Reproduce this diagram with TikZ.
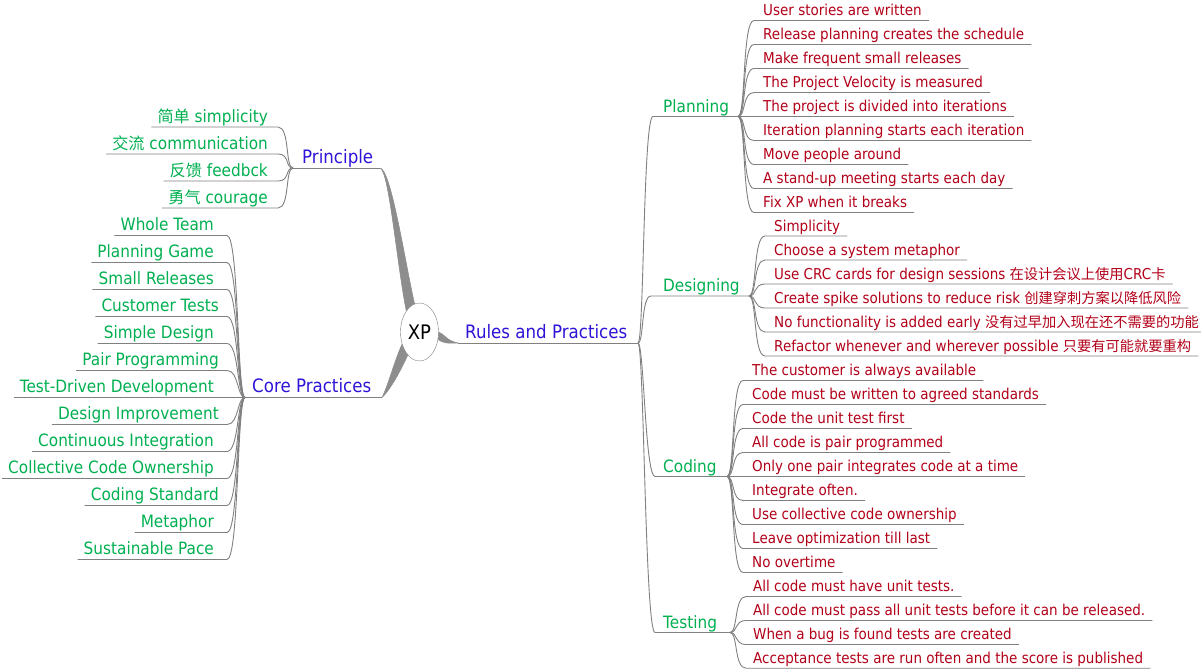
\documentclass[tikz,border=0pt]{standalone}
\usepackage{fontspec}
\setmainfont{DejaVu Sans}[FakeStretch=0.9]
\newfontfamily\cjk{Noto Sans CJK SC}[Scale=0.95]
\usetikzlibrary{calc,shapes.geometric,backgrounds}
\definecolor{topblue}{RGB}{45,20,215}
\definecolor{brgreen}{RGB}{0,176,80}
\definecolor{lfred}{RGB}{178,0,24}
\definecolor{lnk}{RGB}{128,128,128}
% right leaf: name, junction, y, text x, text
\newcommand\rleaf[5]{%
  \node[lftext,anchor=base west] (#1) at (#4,#3-5) {#5};
  \draw[link] (#2) .. controls +(8,0) and +(-12,0) .. ($(#2|-#1.base)+(16,5)$) -- ($(#1.base east)+(7,5)$);
}
% left leaf: name, junction, y, text right x, text, curve offset
\newcommand\lleaf[6]{%
  \node[brtext,anchor=base east] (#1) at (#4,#3-5) {#5};
  \draw[link] (#2) .. controls +(-8,0) and +(12,0) .. ($(#2|-#1.base)+(-#6,5)$) -- ($(#1.base west)+(-6,5)$);
}
\begin{document}
\begin{tikzpicture}[x=1pt,y=-1pt,
  toptext/.style={text=topblue,font=\fontsize{18.5}{20}\selectfont,inner sep=0pt},
  brtext/.style={text=brgreen,font=\fontsize{17}{19}\selectfont,inner sep=0pt},
  lftext/.style={text=lfred,font=\fontsize{15}{17}\selectfont,inner sep=0pt},
  link/.style={draw=lnk,line width=0.9pt},
  mainlink/.style={fill=lnk!90,draw=lnk!90,line width=0.6pt}]
\useasboundingbox (0,0) rectangle (1201,669);

% central node
\node[draw=lnk,fill=white,ellipse,minimum width=38,minimum height=58,inner sep=0pt,
      font=\fontsize{20}{22}\selectfont] (xp) at (419.5,332) {XP};

% main topics
\node[toptext,anchor=base west] (pr) at (302,163) {Principle};
\node[toptext,anchor=base west] (cp) at (252,392.5) {Core Practices};
\node[toptext,anchor=base west] (rp) at (465,338) {Rules and Practices};
\coordinate (prJ) at (293,168);   \coordinate (prE) at (380,168);
\coordinate (cpJ) at (245,397.5); \coordinate (cpE) at (382,397.5);
\coordinate (rS) at (458,343);    \coordinate (rJ) at (638,343);
\draw[link] (prJ) -- (prE);
\draw[link] (cpJ) -- (cpE);
\draw[link] (rS) -- (rJ);

\begin{scope}[on background layer]
  \fill[mainlink] (prE) .. controls (389,170) and (397,265) .. (xp.122) -- (xp.100)
        .. controls (405,262) and (391,169) .. (prE);
  \fill[mainlink] (cpE) .. controls (388,386) and (394,362) .. (xp.215) -- (xp.243)
        .. controls (400,372) and (390,390) .. (cpE);
  \fill[mainlink] (xp.0) .. controls (444,334) and (447,341) .. (rS)
        .. controls (447,343.5) and (443,343) .. (xp.-22) -- cycle;
\end{scope}

% Principle leaves
\lleaf{p1}{prJ}{127}{268}{{\cjk 简单} simplicity}{15}
\lleaf{p2}{prJ}{154}{268}{{\cjk 交流} communication}{15}
\lleaf{p3}{prJ}{181}{268}{{\cjk 反馈} feedbck}{15}
\lleaf{p4}{prJ}{208}{268}{{\cjk 勇气} courage}{15}

% Core Practices leaves
\lleaf{c1}{cpJ}{235.5}{214}{Whole Team}{18}
\lleaf{c2}{cpJ}{262.5}{214}{Planning Game}{18}
\lleaf{c3}{cpJ}{289.5}{214}{Small Releases}{18}
\lleaf{c4}{cpJ}{316.5}{219}{Customer Tests}{18}
\lleaf{c5}{cpJ}{343.5}{214}{Simple Design}{18}
\lleaf{c6}{cpJ}{370.5}{219}{Pair Programming}{18}
\lleaf{c7}{cpJ}{397.5}{214}{Test-Driven Development}{18}
\lleaf{c8}{cpJ}{424.5}{219}{Design Improvement}{18}
\lleaf{c9}{cpJ}{451.5}{214}{Continuous Integration}{18}
\lleaf{c10}{cpJ}{478.5}{214}{Collective Code Ownership}{18}
\lleaf{c11}{cpJ}{505.5}{219}{Coding Standard}{18}
\lleaf{c12}{cpJ}{532.5}{214}{Metaphor}{18}
\lleaf{c13}{cpJ}{559.5}{214}{Sustainable Pace}{18}

% Rules and Practices branches
\node[brtext,anchor=base west] (pl) at (663,112) {Planning};
\node[brtext,anchor=base west] (de) at (663,291.5) {Designing};
\node[brtext,anchor=base west] (co) at (663,472) {Coding};
\node[brtext,anchor=base west] (te) at (663,628) {Testing};
\coordinate (plS) at (653,116.5); \coordinate (plJ) at (738,116.5);
\coordinate (deS) at (651,296);   \coordinate (deJ) at (749,296);
\coordinate (coS) at (655,476.5); \coordinate (coJ) at (727,476.5);
\coordinate (teS) at (655,632.5); \coordinate (teJ) at (730,632.5);
\foreach \b in {pl,de,co,te}{
  \draw[link] (rJ) .. controls +(6,0) and +(-10,0) .. (\b S) -- (\b J);
}

% Planning leaves
\rleaf{l1}{plJ}{20.5}{763}{User stories are written}
\rleaf{l2}{plJ}{44.5}{763}{Release planning creates the schedule}
\rleaf{l3}{plJ}{68.5}{763}{Make frequent small releases}
\rleaf{l4}{plJ}{92.5}{763}{The Project Velocity is measured}
\rleaf{l5}{plJ}{116.5}{763}{The project is divided into iterations}
\rleaf{l6}{plJ}{140.5}{763}{Iteration planning starts each iteration}
\rleaf{l7}{plJ}{164.5}{763}{Move people around}
\rleaf{l8}{plJ}{188.5}{763}{A stand-up meeting starts each day}
\rleaf{l9}{plJ}{212.5}{763}{Fix XP when it breaks}

% Designing leaves
\rleaf{d1}{deJ}{236}{774}{Simplicity}
\rleaf{d2}{deJ}{260}{774}{Choose a system metaphor}
\rleaf{d3}{deJ}{284}{774}{Use CRC cards for design sessions {\cjk 在设计会议上使用}CRC{\cjk 卡}}
\rleaf{d4}{deJ}{308}{774}{Create spike solutions to reduce risk {\cjk 创建穿刺方案以降低风险}}
\rleaf{d5}{deJ}{332}{774}{No functionality is added early {\cjk 没有过早加入现在还不需要的功能}}
\rleaf{d6}{deJ}{356}{774}{Refactor whenever and wherever possible {\cjk 只要有可能就要重构}}

% Coding leaves
\rleaf{k1}{coJ}{380.5}{752}{The customer is always available}
\rleaf{k2}{coJ}{404.5}{752}{Code must be written to agreed standards}
\rleaf{k3}{coJ}{428.5}{752}{Code the unit test first}
\rleaf{k4}{coJ}{452.5}{752}{All code is pair programmed}
\rleaf{k5}{coJ}{476.5}{752}{Only one pair integrates code at a time}
\rleaf{k6}{coJ}{500.5}{752}{Integrate often.}
\rleaf{k7}{coJ}{524.5}{752}{Use collective code ownership}
\rleaf{k8}{coJ}{548.5}{752}{Leave optimization till last}
\rleaf{k9}{coJ}{572.5}{752}{No overtime}

% Testing leaves
\rleaf{t1}{teJ}{596.5}{753}{All code must have unit tests.}
\rleaf{t2}{teJ}{620.5}{753}{All code must pass all unit tests before it can be released.}
\rleaf{t3}{teJ}{644.5}{753}{When a bug is found tests are created}
\rleaf{t4}{teJ}{668.2}{753}{Acceptance tests are run often and the score is published}
\end{tikzpicture}
\end{document}
